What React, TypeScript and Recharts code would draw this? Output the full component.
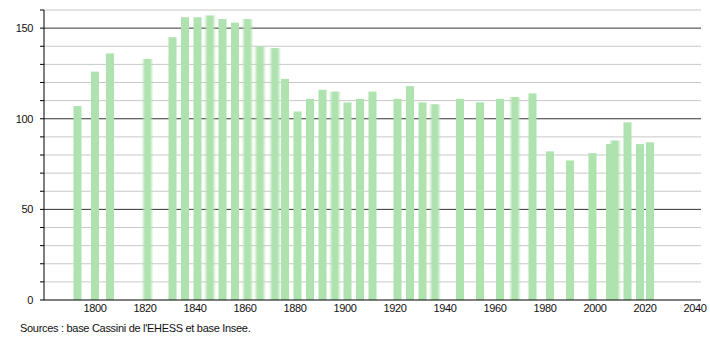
import { Bar, BarChart, CartesianGrid, XAxis, YAxis } from 'recharts';

const YEARS = [
  1793, 1800, 1806, 1821, 1831, 1836, 1841, 1846, 1851, 1856, 1861, 1866, 1872,
  1876, 1881, 1886, 1891, 1896, 1901, 1906, 1911, 1921, 1926, 1931, 1936, 1946,
  1954, 1962, 1968, 1975, 1982, 1990, 1999, 2006, 2008, 2013, 2018, 2022,
];

const POPULATION = [
  107, 126, 136, 133, 145, 156, 156, 157, 155, 153, 155, 140, 139,
  122, 104, 111, 116, 115, 109, 111, 115, 111, 118, 109, 108, 111,
  109, 111, 112, 114, 82, 77, 81, 86, 88, 98, 86, 87,
];

// years whose bars look blurred in the source picture
const SOFT_YEARS = [1821, 1846, 1861, 1866, 1872, 1896, 1936, 1968, 2008];

const X_TICKS = [1800, 1820, 1840, 1860, 1880, 1900, 1920, 1940, 1960, 1980, 2000, 2020, 2040];
const Y_TICKS = [0, 10, 20, 30, 40, 50, 60, 70, 80, 90, 100, 110, 120, 130, 140, 150, 160];
const Y_LABELS = [0, 50, 100, 150];

const data = YEARS.map((year, i) => ({ year, value: POPULATION[i] }));

const BAR = '#aee2ae';
const FONT = 'Liberation Sans, Arial, sans-serif';

const PLOT_TOP = 10;
const PLOT_BOTTOM = 300;

function BarShape(props: any) {
  const { x, y, width, height, payload } = props;
  const cx = x + width / 2;
  const soft = SOFT_YEARS.includes(payload.year);
  const w = soft ? 12 : 8;
  return (
    <rect
      x={cx - w / 2}
      y={y}
      width={w}
      height={height}
      fill={soft ? 'url(#softBar)' : BAR}
    />
  );
}

function GridLine(props: any) {
  const { x1, x2, y1 } = props;
  const v = Math.round(((PLOT_BOTTOM - y1) / (PLOT_BOTTOM - PLOT_TOP)) * 160);
  if (v === 0) return null;
  const major = v % 50 === 0;
  return (
    <line
      x1={x1}
      x2={x2}
      y1={y1}
      y2={y1}
      stroke={major ? '#333' : '#c8c8c8'}
      strokeWidth={1}
    />
  );
}

export default function App() {
  return (
    <div style={{ position: 'absolute', left: 0, top: 0, width: 710, height: 340, background: '#fff' }}>
      <BarChart
        width={710}
        height={340}
        data={data}
        margin={{ top: PLOT_TOP, right: 9, left: 0, bottom: 0 }}
      >
        <defs>
          <linearGradient id="softBar" x1="0" y1="0" x2="1" y2="0">
            <stop offset="0%" stopColor={BAR} stopOpacity={0} />
            <stop offset="30%" stopColor={BAR} stopOpacity={1} />
            <stop offset="70%" stopColor={BAR} stopOpacity={1} />
            <stop offset="100%" stopColor={BAR} stopOpacity={0} />
          </linearGradient>
        </defs>
        <CartesianGrid vertical={false} horizontal={(p: any) => <GridLine key={p.key} {...p} />} />
        <XAxis
          dataKey="year"
          type="number"
          domain={[1779.6, 2042.4]}
          allowDataOverflow
          ticks={X_TICKS}
          interval={0}
          height={40}
          tickLine={false}
          tickSize={0}
          tickMargin={4}
          axisLine={{ stroke: '#000' }}
          tick={{ fill: '#111', fontSize: 11, fontFamily: FONT, letterSpacing: -0.4 }}
        />
        <YAxis
          type="number"
          domain={[0, 160]}
          ticks={Y_TICKS}
          interval={0}
          width={44}
          tickSize={4}
          tickMargin={7}
          axisLine={{ stroke: '#000' }}
          tickLine={{ stroke: '#000' }}
          tickFormatter={(v: number) => (Y_LABELS.includes(v) ? String(v) : '')}
          tick={{ fill: '#111', fontSize: 11, fontFamily: FONT, letterSpacing: -0.4 }}
        />
        <Bar dataKey="value" shape={<BarShape />} isAnimationActive={false} />
      </BarChart>
      <div
        style={{
          position: 'absolute',
          left: 20,
          top: 322,
          fontFamily: FONT,
          fontSize: 11,
          letterSpacing: -0.3,
          color: '#111',
        }}
      >
        Sources : base Cassini de l'EHESS et base Insee.
      </div>
    </div>
  );
}
